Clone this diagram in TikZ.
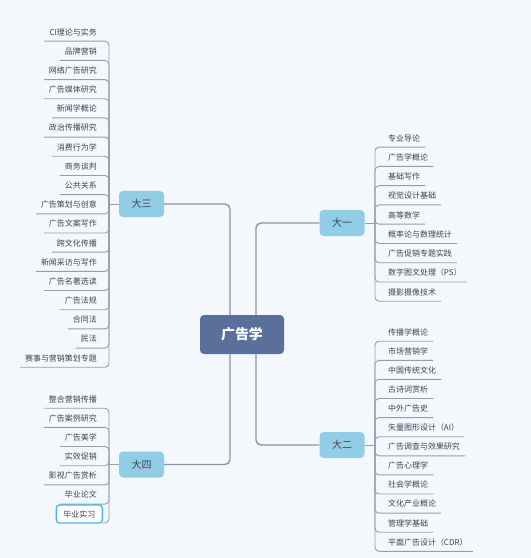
\documentclass[tikz,border=0pt]{standalone}
\usepackage{fontspec}
\newfontfamily\cjk{Noto Sans CJK SC}
\definecolor{bg}{RGB}{244,248,253}
\definecolor{rootc}{RGB}{91,111,155}
\definecolor{subc}{RGB}{145,205,231}
\definecolor{linec}{RGB}{140,148,166}
\definecolor{leafc}{RGB}{150,157,172}
\definecolor{txt}{RGB}{64,68,76}
\definecolor{sel}{RGB}{70,182,230}
\begin{document}
\begin{tikzpicture}[x=1bp,y=-1bp,
 root/.style={fill=rootc, rounded corners=4bp, minimum width=84bp, minimum height=39bp, text=white, font=\cjk\bfseries\fontsize{14}{16}\selectfont},
 sub/.style={fill=subc, rounded corners=4bp, minimum width=45bp, minimum height=26bp, text=txt, font=\cjk\fontsize{10}{12}\selectfont},
 leafl/.style={anchor=east, inner xsep=5bp, inner ysep=0pt, minimum height=18bp, text=txt, font=\cjk\fontsize{8}{10}\selectfont},
 leafr/.style={leafl, anchor=west},
 mainline/.style={draw=linec, line width=1.4bp, rounded corners=5bp},
 leafsty/.style={draw=leafc, line width=0.9bp, rounded corners=4bp}]
\fill[bg] (0,0) rectangle (531,558);
\useasboundingbox (0,0) rectangle (531,558);

\node[root] (root) at (242,334.5) {广告学};
\node[sub] (dasan) at (141.5,204) {大三};
\node[sub] (dayi) at (342,223) {大一};
\node[sub] (daer) at (342,445) {大二};
\node[sub] (dasi) at (141.5,464.5) {大四};

\draw[mainline] (dasan.east) -| ([xshift=-12bp]root.north);
\draw[mainline] ([xshift=14bp]root.north) |- (dayi.west);
\draw[mainline] ([xshift=14bp]root.south) |- (daer.west);
\draw[mainline] ([xshift=-12bp]root.south) |- (dasi.east);

\coordinate (s3) at (109,204);
\coordinate (s1) at (375,223);
\coordinate (s2) at (375,445);
\coordinate (s4) at (109,464.5);
\draw[leafsty] (dasan.west) -- (s3);
\draw[leafsty] (dayi.east) -- (s1);
\draw[leafsty] (daer.east) -- (s2);
\draw[leafsty] (dasi.west) -- (s4);

\foreach \t [count=\i from 0] in {CI理论与实务,品牌营销,网络广告研究,广告媒体研究,新闻学概论,政治传播研究,消费行为学,商务谈判,公共关系,广告策划与创意,广告文案写作,跨文化传播,新闻采访与写作,广告名著选读,广告法规,合同法,民法,赛事与营销策划专题}{
  \node[leafl] (a\i) at (102,{32+19.18*\i}) {\t};
  \draw[leafsty] (s3) |- (a\i.south west);
}
\foreach \t [count=\i from 0] in {专业导论,广告学概论,基础写作,视觉设计基础,高等数学,概率论与数理统计,广告促销专题实践,数字图文处理（PS）,摄影摄像技术}{
  \node[leafr] (b\i) at (383,{138+19.25*\i}) {\t};
  \draw[leafsty] (s1) |- (b\i.south east);
}
\foreach \t [count=\i from 0] in {传播学概论,市场营销学,中国传统文化,古诗词赏析,中外广告史,矢量图形设计（AI）,广告调查与效果研究,广告心理学,社会学概论,文化产业概论,管理学基础,平面广告设计（CDR）}{
  \node[leafr] (c\i) at (383,{332+19.1*\i}) {\t};
  \draw[leafsty] (s2) |- (c\i.south east);
}
\foreach \t [count=\i from 0] in {整合营销传播,广告案例研究,广告美学,实效促销,影视广告赏析,毕业论文}{
  \node[leafl] (d\i) at (102,{399+19.17*\i}) {\t};
  \draw[leafsty] (s4) |- (d\i.south west);
}
\draw[leafsty] (s4) |- (102,523);
\node[leafl, draw=sel, fill=white, line width=1.3bp, rounded corners=3bp, minimum width=46bp] (d6) at (103,514) {毕业实习};
\end{tikzpicture}
\end{document}
